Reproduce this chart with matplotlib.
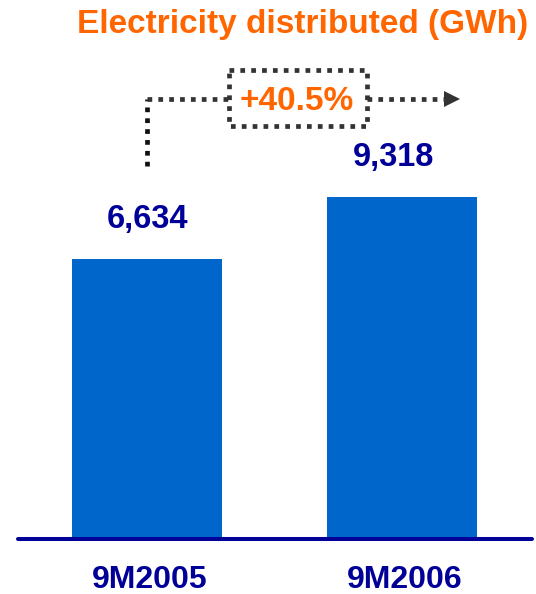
import numpy as np
import matplotlib
matplotlib.use('Agg')
import matplotlib.pyplot as plt

plt.rcParams['font.family'] = ['Liberation Sans', 'DejaVu Sans']
plt.rcParams['font.weight'] = 'bold'

##-------------------data
periods = ['9M2005', '9M2006']
gwh = [6634, 9318]
title = 'Electricity distributed (GWh)'

bar_blue = '#0066CC'
navy = '#000099'
orange = '#FF6600'
dots = '#333333'

W, H = 536, 594
fig = plt.figure(figsize=(W / 100., H / 100.), dpi=100)

##-------------------main axes: baseline sits at 538.5 px from top
ax = fig.add_axes([18. / W, (H - 538.5) / H, 514. / W, 538.5 / H])
ymin, ymax = -5479, 17833
x = np.arange(len(periods))
vals = np.array(gwh)
ax.bar(x, vals - ymin, bottom=ymin, width=0.588, color=bar_blue, zorder=2)
ax.set_xlim(-0.506, 1.510)
ax.set_ylim(ymin, ymax)

# heavy navy baseline with rounded ends
ax.plot([-0.506, 1.510], [ymin, ymin], color=navy, lw=2.9,
        solid_capstyle='round', clip_on=False, zorder=3)

label_dx = [0, -8]
for xi, v, dx in zip(x, vals, label_dx):
    ax.annotate('{:,}'.format(v), (xi, v), xytext=(dx, 31),
                textcoords='offset pixels', ha='center', va='baseline',
                fontsize=23.5, fontweight='bold', color=navy)

ax.set_xticks(x + 0.012)
ax.set_xticklabels(periods, fontsize=23, fontweight='bold', color=navy)
ax.tick_params(axis='x', length=0, pad=19)
ax.set_yticks([])
for s in ax.spines.values():
    s.set_visible(False)
ax.patch.set_alpha(0)

##-------------------overlay in pixel units for title and growth callout
ov = fig.add_axes([0, 0, 1, 1], zorder=5)
ov.set_xlim(0, W)
ov.set_ylim(H, 0)
ov.axis('off')

ov.text(528, 33, title, ha='right', va='baseline', fontsize=24,
        fontweight='bold', color=orange)

growth = (gwh[1] / float(gwh[0]) - 1) * 100
dot_style = dict(lw=3.4, linestyle=(0, (1, 1.3)), dash_capstyle='butt')
ov.plot([147, 147], [166, 98.5], color='#111111', **dot_style)
ov.plot([147, 229], [98.5, 98.5], color=dots, **dot_style)
# dotted box round the growth figure
ov.plot([229, 367, 367, 229, 229], [70, 70, 126, 126, 70], color=dots,
        **dot_style)
ov.plot([367, 445], [98.5, 98.5], color=dots, **dot_style)
ov.plot([452], [98.5], marker='>', markersize=11.3, color=dots,
        markeredgewidth=0)
ov.text(297, 110, '+{:.1f}%'.format(growth), ha='center', va='baseline',
        fontsize=24, fontweight='bold', color=orange)

fig.savefig('out.png', dpi=100)
